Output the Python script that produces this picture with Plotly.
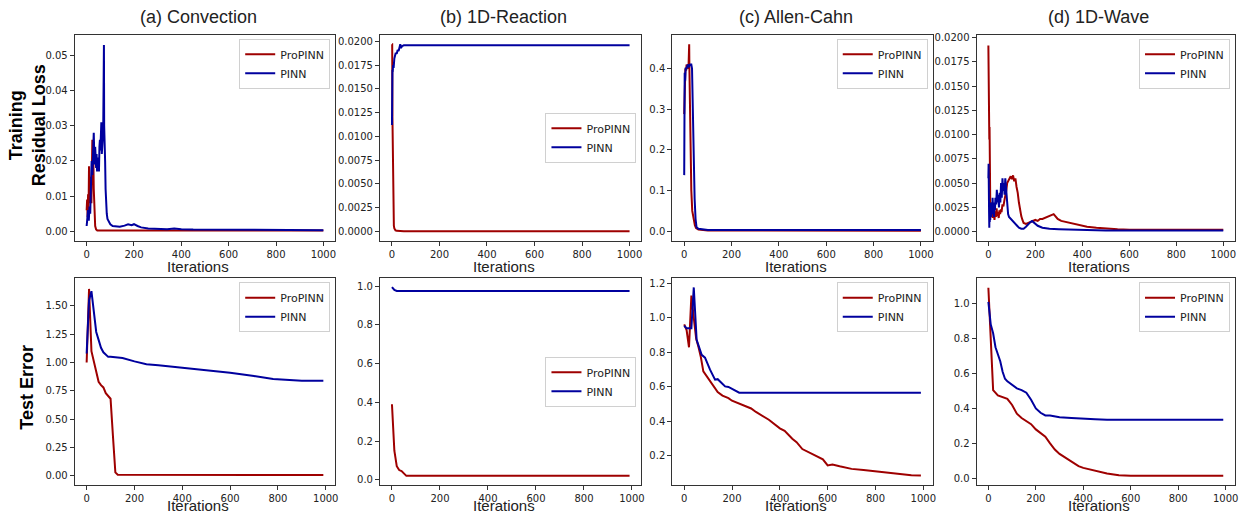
import plotly.graph_objects as go
from plotly.subplots import make_subplots

# ---------------- data ----------------
titles = ["(a) Convection", "(b) 1D-Reaction", "(c) Allen-Cahn", "(d) 1D-Wave"]
series_names = ["ProPINN", "PINN"]

# (a) Convection - training residual loss
conv_loss_pro_x = [0, 2, 4, 6, 8, 10, 12, 14, 16, 18, 20, 22, 24, 26, 28, 30, 33, 36, 40, 45, 60, 100, 200, 300, 400, 500, 600, 700, 800, 900, 1000]
conv_loss_pro_y = [0.006, 0.009, 0.004, 0.0105, 0.006, 0.0185, 0.008, 0.0155, 0.010, 0.012, 0.008, 0.020, 0.026, 0.018, 0.022, 0.012, 0.004, 0.0015, 0.0005, 0.0002, 0.0002, 0.0002, 0.0002, 0.0002, 0.0002, 0.0002, 0.0002, 0.0002, 0.0002, 0.0002, 0.0002]
conv_loss_pinn_x = [0, 3, 6, 9, 12, 15, 18, 21, 24, 27, 30, 32, 34, 36, 38, 40, 42, 44, 46, 48, 50, 52, 54, 56, 58, 60, 62, 64, 66, 68, 70, 72, 73, 74, 76, 78, 80, 82, 85, 88, 92, 96, 100, 110, 120, 140, 160, 175, 190, 200, 215, 230, 260, 300, 340, 370, 400, 450, 500, 600, 700, 800, 900, 1000]
conv_loss_pinn_y = [0.0015, 0.004, 0.006, 0.003, 0.007, 0.005, 0.012, 0.020, 0.016, 0.026, 0.028, 0.022, 0.019, 0.024, 0.020, 0.018, 0.022, 0.017, 0.021, 0.018, 0.020, 0.017, 0.024, 0.026, 0.023, 0.027, 0.031, 0.022, 0.027, 0.025, 0.029, 0.045, 0.053, 0.030, 0.027, 0.020, 0.012, 0.008, 0.005, 0.0035, 0.003, 0.0025, 0.002, 0.0015, 0.0014, 0.0013, 0.0016, 0.002, 0.0017, 0.002, 0.0015, 0.0011, 0.0008, 0.0006, 0.0006, 0.0008, 0.0006, 0.0005, 0.0005, 0.0005, 0.0004, 0.0004, 0.0003, 0.0003]

# (b) 1D-Reaction - training residual loss
reac_loss_pro_x = [0, 1, 2, 4, 6, 8, 10, 15, 20, 30, 50, 100, 200, 300, 400, 500, 600, 700, 800, 900, 1000]
reac_loss_pro_y = [0.0197, 0.0197, 0.012, 0.005, 0.0015, 0.0006, 0.0003, 0.0001, 0.00005, 0.00002, 0.00001, 0.0, 0.0, 0.0, 0.0, 0.0, 0.0, 0.0, 0.0, 0.0, 0.0]
reac_loss_pinn_x = [0, 1, 2, 3, 5, 7, 10, 13, 16, 20, 24, 28, 32, 35, 38, 42, 50, 60, 80, 100, 200, 300, 400, 500, 600, 700, 800, 900, 1000]
reac_loss_pinn_y = [0.0112, 0.0160, 0.0170, 0.0168, 0.0175, 0.0172, 0.0182, 0.0185, 0.0188, 0.0187, 0.0191, 0.0190, 0.0194, 0.0197, 0.0193, 0.0195, 0.0196, 0.0196, 0.0196, 0.0196, 0.0196, 0.0196, 0.0196, 0.0196, 0.0196, 0.0196, 0.0196, 0.0196, 0.0196]

# (c) Allen-Cahn - training residual loss
ac_loss_pro_x = [0, 3, 5, 8, 10, 13, 15, 18, 20, 21, 22, 24, 26, 28, 30, 34, 40, 45, 50, 60, 80, 100, 200, 300, 400, 500, 600, 700, 800, 900, 1000]
ac_loss_pro_y = [0.288, 0.37, 0.40, 0.395, 0.41, 0.40, 0.405, 0.40, 0.44, 0.46, 0.40, 0.30, 0.20, 0.13, 0.10, 0.05, 0.03, 0.015, 0.008, 0.004, 0.003, 0.002, 0.002, 0.002, 0.002, 0.001, 0.001, 0.001, 0.001, 0.001, 0.001]
ac_loss_pinn_x = [0, 2, 4, 6, 10, 15, 20, 25, 30, 33, 36, 40, 44, 48, 52, 60, 80, 100, 200, 300, 400, 500, 600, 700, 800, 900, 1000]
ac_loss_pinn_y = [0.138, 0.39, 0.37, 0.40, 0.40, 0.41, 0.405, 0.41, 0.41, 0.40, 0.30, 0.17, 0.08, 0.03, 0.01, 0.006, 0.004, 0.003, 0.003, 0.003, 0.003, 0.003, 0.003, 0.003, 0.003, 0.003, 0.003]

# (d) 1D-Wave - training residual loss
wave_loss_pro_x = [0, 1, 2, 3, 4, 5, 6, 7, 8, 10, 12, 14, 16, 18, 20, 23, 26, 29, 32, 35, 38, 41, 44, 47, 50, 53, 56, 60, 64, 68, 72, 76, 80, 85, 90, 95, 100, 105, 110, 115, 120, 125, 130, 135, 140, 145, 150, 160, 170, 180, 190, 200, 210, 220, 230, 240, 250, 260, 270, 278, 285, 295, 310, 330, 350, 380, 420, 460, 500, 550, 600, 700, 800, 900, 1000]
wave_loss_pro_y = [0.0192, 0.0100, 0.0185, 0.0110, 0.0095, 0.0108, 0.0060, 0.0045, 0.0030, 0.0025, 0.0018, 0.0030, 0.0022, 0.0014, 0.0026, 0.0017, 0.0012, 0.0021, 0.0015, 0.0024, 0.0016, 0.0020, 0.0014, 0.0022, 0.0018, 0.0023, 0.0020, 0.0028, 0.0026, 0.0032, 0.0036, 0.0042, 0.0050, 0.0053, 0.0055, 0.0057, 0.0054, 0.0058, 0.0052, 0.0055, 0.0046, 0.0040, 0.0030, 0.0022, 0.0016, 0.0012, 0.0009, 0.0008, 0.0009, 0.0010, 0.0011, 0.0012, 0.0011, 0.0013, 0.0013, 0.0014, 0.0015, 0.0016, 0.0017, 0.0018, 0.0016, 0.0013, 0.0011, 0.0010, 0.0009, 0.0007, 0.0005, 0.0004, 0.0003, 0.00025, 0.0002, 0.0002, 0.0002, 0.0002, 0.0002]
wave_loss_pinn_x = [0, 1, 2, 3, 4, 5, 6, 7, 8, 10, 12, 14, 16, 18, 20, 22, 24, 26, 28, 30, 33, 36, 39, 42, 45, 48, 51, 54, 57, 60, 63, 66, 69, 72, 75, 78, 81, 84, 88, 92, 96, 100, 110, 120, 130, 140, 150, 160, 170, 180, 186, 195, 210, 230, 260, 300, 350, 400, 500, 600, 700, 800, 900, 1000]
wave_loss_pinn_y = [0.0055, 0.0070, 0.0045, 0.0020, 0.0004, 0.0030, 0.0010, 0.0025, 0.0012, 0.0030, 0.0015, 0.0028, 0.0018, 0.0035, 0.0020, 0.0025, 0.0015, 0.0030, 0.0022, 0.0035, 0.0028, 0.0043, 0.0030, 0.0038, 0.0025, 0.0040, 0.0030, 0.0050, 0.0035, 0.0055, 0.0042, 0.0050, 0.0038, 0.0055, 0.0045, 0.0030, 0.0022, 0.0018, 0.0015, 0.0014, 0.0013, 0.0012, 0.0009, 0.0006, 0.0004, 0.0003, 0.0003, 0.0005, 0.0008, 0.0010, 0.0011, 0.0009, 0.0006, 0.0004, 0.0003, 0.00025, 0.0002, 0.00015, 0.0001, 0.0001, 0.0001, 0.0001, 0.0001, 0.0001]

# test error (evaluated every 10 iterations, sampled here)
conv_err_pro_x = [0, 10, 20, 30, 40, 50, 60, 70, 80, 90, 100, 110, 120, 130, 200, 300, 400, 500, 600, 700, 800, 900, 990]
conv_err_pro_y = [1.0, 1.65, 1.1, 1.0, 0.92, 0.83, 0.80, 0.78, 0.73, 0.70, 0.68, 0.35, 0.03, 0.01, 0.01, 0.01, 0.01, 0.006, 0.006, 0.006, 0.006, 0.006, 0.006]
conv_err_pinn_x = [0, 10, 20, 30, 40, 50, 60, 70, 80, 90, 100, 150, 200, 250, 300, 400, 500, 600, 700, 780, 900, 990]
conv_err_pinn_y = [1.08, 1.55, 1.63, 1.45, 1.27, 1.20, 1.13, 1.09, 1.07, 1.05, 1.05, 1.04, 1.01, 0.985, 0.975, 0.955, 0.935, 0.91, 0.88, 0.855, 0.84, 0.84]

reac_err_pro_x = [0, 10, 20, 30, 40, 50, 60, 100, 200, 300, 400, 500, 600, 700, 800, 900, 990]
reac_err_pro_y = [0.39, 0.15, 0.07, 0.05, 0.045, 0.035, 0.02, 0.02, 0.02, 0.02, 0.02, 0.02, 0.02, 0.02, 0.02, 0.02, 0.02]
reac_err_pinn_x = [0, 10, 20, 30, 100, 200, 300, 400, 500, 600, 700, 800, 900, 990]
reac_err_pinn_y = [0.995, 0.98, 0.975, 0.975, 0.975, 0.975, 0.975, 0.975, 0.975, 0.975, 0.975, 0.975, 0.975, 0.975]

ac_err_pro_x = [0, 10, 20, 30, 40, 50, 60, 70, 80, 100, 120, 140, 160, 185, 200, 256, 280, 300, 354, 400, 420, 452, 470, 494, 530, 550, 580, 600, 620, 650, 700, 750, 800, 850, 900, 950, 990]
ac_err_pro_y = [0.963, 0.93, 0.83, 1.13, 1.0, 0.88, 0.83, 0.77, 0.69, 0.65, 0.61, 0.57, 0.55, 0.535, 0.52, 0.488, 0.475, 0.455, 0.41, 0.36, 0.345, 0.30, 0.28, 0.24, 0.215, 0.205, 0.18, 0.145, 0.15, 0.14, 0.125, 0.118, 0.11, 0.10, 0.093, 0.088, 0.087]
ac_err_pinn_x = [0, 10, 20, 30, 40, 52, 73, 87, 108, 129, 140, 171, 185, 213, 230, 300, 400, 500, 600, 700, 800, 900, 990]
ac_err_pinn_y = [0.955, 0.94, 0.94, 0.94, 1.177, 0.873, 0.786, 0.77, 0.70, 0.642, 0.645, 0.603, 0.60, 0.58, 0.567, 0.567, 0.567, 0.567, 0.567, 0.567, 0.567, 0.567, 0.567]

wave_err_pro_x = [0, 10, 20, 40, 60, 80, 100, 120, 140, 160, 180, 200, 220, 240, 260, 280, 300, 320, 340, 360, 380, 400, 450, 500, 550, 600, 700, 800, 900, 990]
wave_err_pro_y = [1.09, 0.80, 0.505, 0.475, 0.465, 0.455, 0.42, 0.37, 0.345, 0.325, 0.31, 0.28, 0.26, 0.238, 0.2, 0.165, 0.14, 0.122, 0.108, 0.09, 0.07, 0.06, 0.045, 0.028, 0.018, 0.015, 0.015, 0.015, 0.015, 0.015]
wave_err_pinn_x = [0, 10, 20, 30, 40, 50, 60, 70, 80, 100, 120, 140, 160, 180, 200, 220, 240, 260, 300, 350, 400, 450, 500, 600, 700, 800, 900, 990]
wave_err_pinn_y = [1.01, 0.88, 0.83, 0.75, 0.71, 0.67, 0.61, 0.57, 0.555, 0.535, 0.515, 0.505, 0.49, 0.45, 0.40, 0.375, 0.36, 0.36, 0.35, 0.345, 0.34, 0.338, 0.335, 0.335, 0.335, 0.335, 0.335, 0.335]

panels = [
    (conv_loss_pro_x, conv_loss_pro_y, conv_loss_pinn_x, conv_loss_pinn_y),
    (reac_loss_pro_x, reac_loss_pro_y, reac_loss_pinn_x, reac_loss_pinn_y),
    (ac_loss_pro_x, ac_loss_pro_y, ac_loss_pinn_x, ac_loss_pinn_y),
    (wave_loss_pro_x, wave_loss_pro_y, wave_loss_pinn_x, wave_loss_pinn_y),
    (conv_err_pro_x, conv_err_pro_y, conv_err_pinn_x, conv_err_pinn_y),
    (reac_err_pro_x, reac_err_pro_y, reac_err_pinn_x, reac_err_pinn_y),
    (ac_err_pro_x, ac_err_pro_y, ac_err_pinn_x, ac_err_pinn_y),
    (wave_err_pro_x, wave_err_pro_y, wave_err_pinn_x, wave_err_pinn_y),
]

# ---------------- layout / style ----------------
W, H = 1241, 513
RED = "#9e0000"
BLUE = "#00009e"
TICK_FONT = dict(family="DejaVu Sans", size=10, color="#222")
LABEL_FONT = "Liberation Sans, Arial, Helvetica, sans-serif"

col_px = [(75, 336), (381, 643), (674, 935), (979, 1238)]
row_px = [(32, 239), (277, 485)]

# y-axis ranges and tick settings per panel (matplotlib-like autoscale)
y_ranges = [(-0.00266, 0.0559), (-0.00098, 0.0207), (-0.023, 0.483), (-0.00093, 0.0203),
            (-0.083, 1.743), (-0.028, 1.04), (0.0305, 1.2295), (-0.039, 1.144)]
y_ticks = [(0, 0.01, ".2f"), (0, 0.0025, ".4f"), (0, 0.1, ".1f"), (0, 0.0025, ".4f"),
           (0, 0.25, ".2f"), (0, 0.2, ".1f"), (0.2, 0.2, ".1f"), (0, 0.2, ".1f")]

fig = make_subplots(rows=2, cols=4)

for k, (px, py, bx, by) in enumerate(panels):
    r, c = k // 4 + 1, k % 4 + 1
    leg = "legend" if k == 0 else "legend%d" % (k + 1)
    fig.add_trace(go.Scatter(x=px, y=py, mode="lines", name=series_names[0],
                             line=dict(color=RED, width=2), legend=leg), row=r, col=c)
    fig.add_trace(go.Scatter(x=bx, y=by, mode="lines", name=series_names[1],
                             line=dict(color=BLUE, width=2), legend=leg), row=r, col=c)

axis_style = dict(showline=True, mirror=True, linecolor="#333", linewidth=1.2,
                  ticks="outside", ticklen=4, tickwidth=1, tickcolor="#333",
                  showgrid=False, zeroline=False, tickfont=TICK_FONT)

legends = {}
for k in range(8):
    r, c = k // 4, k % 4
    x0, x1 = col_px[c]
    y0, y1 = row_px[r]
    xr = (-50, 1050) if r == 0 else (-49.5, 1039.5)
    sfx = "" if k == 0 else str(k + 1)
    t0, dt, fmt = y_ticks[k]
    fig.layout["xaxis" + sfx].update(domain=[x0 / W, x1 / W], range=list(xr),
                                     tick0=0, dtick=200, **axis_style)
    fig.layout["yaxis" + sfx].update(domain=[1 - y1 / H, 1 - y0 / H], range=list(y_ranges[k]),
                                     tick0=t0, dtick=dt, tickformat=fmt, **axis_style)
    # legend placement: upper right, except (b) which sits at center right
    if c == 1:
        ly, yanc = 1 - (y0 + y1) / 2 / H, "middle"
    else:
        ly, yanc = 1 - (y0 + 4) / H, "top"
    legends["legend" + sfx] = dict(
        x=(x1 - 5) / W, y=ly, xanchor="right", yanchor=yanc,
        bgcolor="white", bordercolor="#d0d0d0", borderwidth=1,
        font=dict(family="DejaVu Sans", size=11, color="#222"),
        itemwidth=30, tracegroupgap=0)

annotations = []
for c in range(4):
    x0, x1 = col_px[c]
    cx = ((x0 + x1) / 2 - 7) / W
    annotations.append(dict(text=titles[c], x=cx, y=1 - 14 / H, xref="paper", yref="paper",
                            showarrow=False, xanchor="center", yanchor="middle",
                            font=dict(family=LABEL_FONT, size=18, color="#222")))
    for yy in (265, 505):
        annotations.append(dict(text="Iterations", x=cx, y=1 - yy / H, xref="paper", yref="paper",
                                showarrow=False, xanchor="center", yanchor="middle",
                                font=dict(family=LABEL_FONT, size=15, color="#222")))

annotations.append(dict(text="<b>Training<br>Residual Loss</b>", x=27 / W, y=1 - 123 / H,
                        xref="paper", yref="paper", showarrow=False, textangle=-90,
                        xanchor="center", yanchor="middle",
                        font=dict(family=LABEL_FONT, size=18, color="black")))
annotations.append(dict(text="<b>Test Error</b>", x=27 / W, y=1 - 386 / H,
                        xref="paper", yref="paper", showarrow=False, textangle=-90,
                        xanchor="center", yanchor="middle",
                        font=dict(family=LABEL_FONT, size=18, color="black")))

fig.update_layout(width=W, height=H, margin=dict(l=0, r=0, t=0, b=0),
                  plot_bgcolor="white", paper_bgcolor="white",
                  annotations=annotations, **legends)

# drop the default page margin so the figure sits at the window's top-left corner
fig.write_html("out.html", config={"displayModeBar": False},
               post_script="document.body.style.margin='0';")
